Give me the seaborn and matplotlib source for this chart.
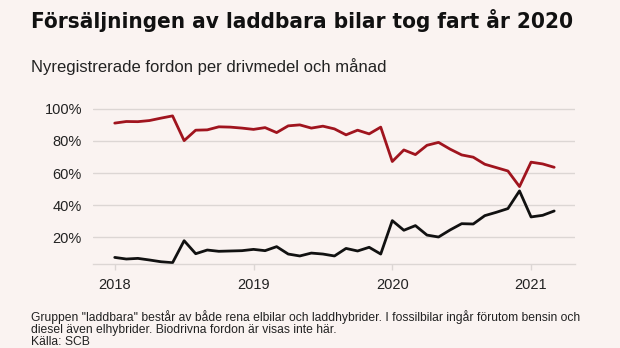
import numpy as np
import pandas as pd
import matplotlib
matplotlib.use("Agg")
import matplotlib.pyplot as plt
from matplotlib import font_manager as fm
import seaborn as sns

# Monthly share of new registrations, Jan 2018 - Mar 2021 (percent)
fossil = [91.1, 92.1, 92.0, 92.7, 94.2, 95.6, 80.2, 86.7, 86.9, 88.8, 88.6, 88.0,
          87.2, 88.3, 85.2, 89.4, 90.0, 88.0, 89.2, 87.5, 83.8, 86.7, 84.4, 88.6,
          67.2, 74.4, 71.5, 77.3, 79.1, 74.9, 71.3, 69.9, 65.5, 63.4, 61.3, 51.6,
          66.8, 65.7, 63.6]
laddbara = [7.5, 6.5, 6.9, 5.9, 4.8, 4.2, 17.9, 9.8, 12.1, 11.3, 11.5, 11.7,
            12.5, 11.7, 14.2, 9.6, 8.4, 10.2, 9.6, 8.4, 13.1, 11.5, 13.8, 9.6,
            30.4, 24.4, 27.3, 21.4, 20.2, 24.6, 28.5, 28.3, 33.5, 35.6, 37.9, 48.9,
            32.7, 33.7, 36.4]
start_year = 2018
year_ticks = [2018, 2019, 2020, 2021]
pct_ticks = [20, 40, 60, 80, 100]

title = "Försäljningen av laddbara bilar tog fart år 2020"
subtitle = "Nyregistrerade fordon per drivmedel och månad"
note = ('Gruppen "laddbara" består av både rena elbilar och laddhybrider. I fossilbilar ingår förutom bensin och\n'
        'diesel även elhybrider. Biodrivna fordon är visas inte här.')
source = "Källa: SCB"

bg = "#faf3f1"
red = "#a0141e"
black = "#111111"
grid = "#dcd6d4"

months = np.arange(len(fossil))
df = pd.DataFrame({
    "tid": np.concatenate([start_year + months / 12, start_year + months / 12]),
    "andel": fossil + laddbara,
    "grupp": ["Fossil"] * len(fossil) + ["Laddbara"] * len(laddbara),
})

sns.set_theme(style="white")
plt.rcParams["font.family"] = ["Liberation Sans", "DejaVu Sans"]

fig = plt.figure(figsize=(6.2, 3.48), dpi=100, facecolor=bg)
ax = fig.add_axes([93 / 620, 1 - 264 / 348, (575 - 93) / 620, (264 - 104) / 348])
ax.set_facecolor(bg)

sns.lineplot(data=df, x="tid", y="andel", hue="grupp",
             palette={"Fossil": red, "Laddbara": black},
             linewidth=2.0, legend=False, ax=ax)

first = start_year - 1.88 / 12
last = start_year + (len(fossil) - 1) / 12 + 1.8 / 12
ax.set_xlim(first, last)
ax.set_ylim(3.4, 103)

ax.set_yticks(pct_ticks)
ax.set_yticklabels([f"{p}%" for p in pct_ticks])
ax.set_xticks(year_ticks)
ax.set_xticklabels([str(y) for y in year_ticks])
ax.yaxis.grid(True, color=grid, linewidth=1.0)
ax.set_axisbelow(True)
for s in ["top", "right", "left"]:
    ax.spines[s].set_visible(False)
ax.spines["bottom"].set_color(grid)
ax.spines["bottom"].set_linewidth(1.0)
ax.tick_params(axis="y", length=0, pad=8, labelsize=10.5, labelcolor="#222222")
ax.tick_params(axis="x", length=4, width=1.0, color=grid, pad=6,
               labelsize=10.5, labelcolor="#222222", bottom=True)
ax.set_xlabel("")
ax.set_ylabel("")

# Headline: prefer a condensed bold face when one is installed
title_font = None
for f in fm.fontManager.ttflist:
    name = f.fname.lower()
    if ("condensed" in name or "narrow" in name) and "bold" in name and "oblique" not in name and "italic" not in name:
        title_font = fm.FontProperties(fname=f.fname)
        break
if title_font is None:
    title_font = fm.FontProperties(family="Roboto", weight="bold")

title_size = 20
t = fig.text(31 / 620, 1 - 21 / 348, title, fontproperties=title_font,
             va="center", ha="left", color="#111111")
t.set_fontsize(title_size)
renderer = fig.canvas.get_renderer()
w = t.get_window_extent(renderer).width
t.set_fontsize(title_size * 541 / w)

fig.text(31 / 620, 1 - 67 / 348, subtitle, fontsize=12, va="center", ha="left",
         color="#222222")
fig.text(31 / 620, 1 - 323 / 348, note, fontsize=8.7, va="center", ha="left",
         color="#222222", linespacing=1.05)
fig.text(31 / 620, 1 - 342 / 348, source, fontsize=8.7, va="center", ha="left",
         color="#222222")

fig.savefig("out.png", dpi=100, facecolor=bg)
